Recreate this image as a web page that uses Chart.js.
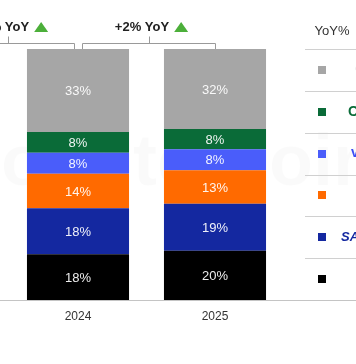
<!DOCTYPE html>
<html>
<head>
<meta charset="utf-8">
<script src="https://cdn.jsdelivr.net/npm/chart.js@4.4.1/dist/chart.umd.min.js"></script>
<style>
html,body{margin:0;padding:0;background:#fff;}
#wrap{width:356px;height:364px;}
</style>
</head>
<body>
<div id="wrap"><canvas id="c" width="356" height="364"></canvas></div>
<script>
const years = ['2024', '2025'];
const brands = ['Apple', 'Samsung', 'Xiaomi', 'vivo', 'OPPO', 'Others'];
const apple   = [18.2, 19.6];
const samsung = [18.4, 18.7];
const xiaomi  = [13.7, 13.4];
const vivo    = [8.4, 8.4];
const oppo    = [8.2, 8.0];
const others  = [33.1, 31.9];
const yoyLabels = ['+4% YoY', '+2% YoY'];
const legendTitle = 'YoY%';

const colors = ['#000000', '#1428a0', '#ff6a00', '#4a5dfa', '#0a6b38', '#a6a6a6'];
const legendTextColors = ['#000000', '#1428a0', '#ff6a00', '#3b4ef5', '#0a6b38', '#d8d8d8'];
const legendFonts = ['bold 14px "Liberation Sans"', 'italic bold 13px "Liberation Sans"', 'bold 14px "Liberation Sans"', 'bold 14px "Liberation Sans"', 'bold 14px "Liberation Sans"', '13px "Liberation Sans"'];
const legendTextX = [360, 341, 360, 351, 348, 355];
const series = [apple, samsung, xiaomi, vivo, oppo, others];

const overlay = {
  id: 'overlay',
  beforeDatasetsDraw(chart) {
    const ctx = chart.ctx;
    ctx.save();
    ctx.fillStyle = 'rgba(0,0,0,0.018)';
    ctx.font = 'bold 72px "Liberation Sans"';
    ctx.textAlign = 'center';
    ctx.textBaseline = 'middle';
    ctx.fillText('Counterpoint', 175, 165);
    ctx.restore();
  },
  afterDatasetsDraw(chart) {
    const ctx = chart.ctx;
    const a = chart.chartArea;
    const xs = chart.scales.x, ys = chart.scales.y;
    ctx.save();
    // data labels
    ctx.font = '13px "Liberation Sans"';
    ctx.textAlign = 'center';
    ctx.textBaseline = 'middle';
    chart.data.datasets.forEach((ds, di) => {
      const meta = chart.getDatasetMeta(di);
      meta.data.forEach((bar, i) => {
        const v = ds.data[i];
        ctx.fillStyle = 'rgba(255,255,255,0.93)';
        ctx.fillText(Math.round(v) + '%', bar.x, (bar.y + bar.base) / 2 + 1);
      });
    });
    // axis line full width
    ctx.strokeStyle = '#c4c4c4';
    ctx.lineWidth = 1;
    ctx.beginPath();
    ctx.moveTo(0, Math.round(a.bottom) + 0.5);
    ctx.lineTo(chart.width, Math.round(a.bottom) + 0.5);
    ctx.stroke();
    // brackets
    const c0 = xs.getPixelForValue(0), c1 = xs.getPixelForValue(1);
    const sp = c1 - c0;
    const topY = ys.getPixelForValue(100);
    const by = Math.round(topY - 6) + 0.5;
    const segs = [[c0 - sp, c0 - 4], [c0 + 4, c1]];
    ctx.strokeStyle = '#9a9a9a';
    segs.forEach((s, k) => {
      const mid = (s[0] + s[1]) / 2;
      ctx.beginPath();
      ctx.moveTo(Math.round(s[0]) + 0.5, topY);
      ctx.lineTo(Math.round(s[0]) + 0.5, by);
      ctx.lineTo(Math.round(s[1]) + 0.5, by);
      ctx.lineTo(Math.round(s[1]) + 0.5, topY);
      ctx.moveTo(Math.round(mid) + 0.5, by);
      ctx.lineTo(Math.round(mid) + 0.5, by - 7);
      ctx.stroke();
      // label
      ctx.font = 'bold 13px "Liberation Sans"';
      const t = yoyLabels[k];
      const tw = ctx.measureText(t).width;
      const triW = 14, gap = 5;
      const total = tw + gap + triW;
      const sx = mid - total / 2 + (k === 0 ? 4 : 3);
      const ty = 27;
      ctx.fillStyle = '#222';
      ctx.textAlign = 'left';
      ctx.fillText(t, sx, ty);
      ctx.fillStyle = '#4caf3a';
      ctx.beginPath();
      const tx = sx + tw + gap;
      ctx.moveTo(tx, ty + 5);
      ctx.lineTo(tx + triW, ty + 5);
      ctx.lineTo(tx + triW / 2, ty - 5);
      ctx.closePath();
      ctx.fill();
    });
    // legend table
    const rowH = (a.bottom - a.top) / brands.length;
    ctx.textAlign = 'center';
    ctx.font = '13px "Liberation Sans"';
    ctx.fillStyle = '#333';
    ctx.fillText(legendTitle, 332, 31);
    ctx.strokeStyle = '#d0d0d0';
    for (let r = 0; r < brands.length; r++) {
      const y = Math.round(a.top + r * rowH) + 0.5;
      ctx.beginPath();
      ctx.moveTo(305, y);
      ctx.lineTo(chart.width, y);
      ctx.stroke();
    }
    for (let r = 0; r < brands.length; r++) {
      const bi = brands.length - 1 - r;
      const cy = a.top + (r + 0.5) * rowH;
      ctx.fillStyle = colors[bi];
      ctx.fillRect(318, Math.round(cy - 4), 8, 8);
      ctx.fillStyle = legendTextColors[bi];
      ctx.font = legendFonts[bi];
      ctx.textAlign = 'left';
      ctx.fillText(bi === 1 ? 'SAMSUNG' : brands[bi], legendTextX[bi], cy);
    }
    ctx.restore();
  }
};

new Chart(document.getElementById('c'), {
  type: 'bar',
  data: {
    labels: years,
    datasets: brands.map((b, i) => ({
      label: b,
      data: series[i],
      backgroundColor: colors[i],
      borderWidth: 0,
      barPercentage: 0.745,
      categoryPercentage: 1.0
    }))
  },
  options: {
    responsive: false,
    devicePixelRatio: 1,
    animation: false,
    layout: { padding: { left: 9.5, right: 72.5, top: 49, bottom: 0 } },
    plugins: { legend: { display: false }, tooltip: { enabled: false } },
    scales: {
      x: {
        stacked: true,
        grid: { display: false, drawTicks: false },
        border: { display: false },
        ticks: { color: '#333', font: { family: 'Liberation Sans', size: 12 }, padding: 9 },
        afterFit(s) { s.height = 64; }
      },
      y: {
        stacked: true, display: false, min: 0, max: 100
      }
    }
  },
  plugins: [overlay]
});
</script>
</body>
</html>
